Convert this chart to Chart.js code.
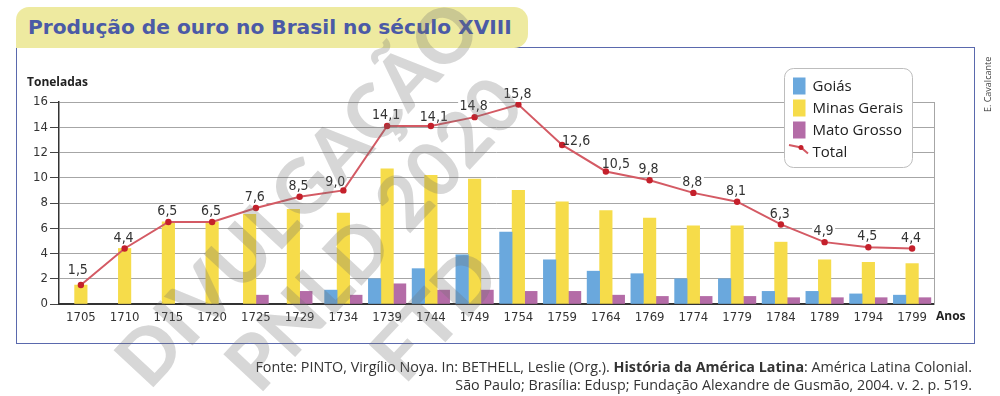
<!DOCTYPE html>
<html>
<head>
<meta charset="utf-8">
<script src="https://cdn.jsdelivr.net/npm/chart.js@4.4.1/dist/chart.umd.min.js"></script>
<style>
  html, body { margin:0; padding:0; background:#fff; }
  body { width:1000px; height:396px; position:relative; overflow:hidden; font-family:'Open Sans', sans-serif; }
  #frame { position:absolute; left:16px; top:47px; width:959px; height:297px; border:1.5px solid #5a69ad; box-sizing:border-box; }
  #titlebox { position:absolute; left:16px; top:7px; width:512px; height:41px; background:#eeeaa0; border-radius:13px 14px 14px 0; }
  #title { position:absolute; left:28px; top:27px; transform:translateY(-50%); font-family:'DejaVu Sans', sans-serif; font-weight:700; font-size:18px; color:#4b5aa6; white-space:nowrap; line-height:1; }
  #chart { position:absolute; left:0; top:0; }
  .axt { position:absolute; font-family:'Open Sans', sans-serif; font-weight:700; font-size:12px; color:#222; white-space:nowrap; line-height:16px; }
  #credit { position:absolute; left:983px; top:112px; transform-origin:0 0; transform:rotate(-90deg); font-family:'Open Sans', sans-serif; font-size:9px; color:#444; white-space:nowrap; line-height:10px; }
  .src { position:absolute; right:28px; font-family:'Open Sans', sans-serif; font-size:13px; color:#333; white-space:nowrap; line-height:18px; }
  .wm { position:absolute; font-family:Lato, sans-serif; font-weight:900; font-size:75px; color:rgba(110,110,110,0.28); white-space:nowrap; line-height:80px; transform:translate(-50%,-50%) rotate(-47deg); pointer-events:none; }
</style>
</head>
<body>
<div id="frame"></div>
<div id="titlebox"></div>
<div id="title">Produção de ouro no Brasil no século XVIII</div>
<canvas id="chart" width="1000" height="396"></canvas>
<div class="axt" style="left:27px; top:74px;">Toneladas</div>
<div class="axt" style="left:936px; top:308px;">Anos</div>
<div id="credit">E. Cavalcante</div>
<div class="src" id="src1" style="top:358px;">Fonte: PINTO, Virgílio Noya. In: BETHELL, Leslie (Org.). <b>História da América Latina</b>: América Latina Colonial.</div>
<div class="src" id="src2" style="top:376px;">São Paulo; Brasília: Edusp; Fundação Alexandre de Gusmão, 2004. v. 2. p. 519.</div>
<div class="wm" style="left:296px; top:192px;">DIVULGAÇÃO</div>
<div class="wm" style="left:372px; top:232px;">PNLD 2020</div>
<div class="wm" style="left:433px; top:313px;">FTD</div>
<script>
// ---- data ----
const years = ['1705','1710','1715','1720','1725','1729','1734','1739','1744','1749','1754','1759','1764','1769','1774','1779','1784','1789','1794','1799'];
const goias = [null,null,null,null,null,null,1.1,2.0,2.8,3.9,5.7,3.5,2.6,2.4,2.0,2.0,1.0,1.0,0.8,0.7];
const minasGerais = [1.5,4.4,6.5,6.5,7.1,7.5,7.2,10.7,10.2,9.9,9.0,8.1,7.4,6.8,6.2,6.2,4.9,3.5,3.3,3.2];
const matoGrosso = [null,null,null,null,0.7,1.0,0.7,1.6,1.1,1.1,1.0,1.0,0.7,0.6,0.6,0.6,0.5,0.5,0.5,0.5];
const total = [1.5,4.4,6.5,6.5,7.6,8.5,9.0,14.1,14.1,14.8,15.8,12.6,10.5,9.8,8.8,8.1,6.3,4.9,4.5,4.4];
const yTicks = [0,2,4,6,8,10,12,14,16];

// fit text blocks to the reference widths
function fitWidth(el, target){
  const fs = parseFloat(getComputedStyle(el).fontSize);
  const w = el.getBoundingClientRect().width;
  const nfs = fs * target / w;
  el.style.fontSize = nfs + 'px';
  return nfs;
}
const tEl = document.getElementById('title');
fitWidth(tEl, 484);
const s1 = document.getElementById('src1');
const nfs = fitWidth(s1, 717);
document.getElementById('src2').style.fontSize = nfs + 'px';

const NARROW = "'Liberation Sans Narrow', 'DejaVu Sans Condensed', 'Open Sans', sans-serif";
const COLORS = { goias:'#6aa8dd', minas:'#f6dc4a', mato:'#b46ca7', line:'#d45a64', point:'#c4202b' };

// label offsets relative to the point (visual placement tweaks)
const labelOffset = (i) => ({0:[-3,-15], 6:[-8,-8], 8:[3,-9], 11:[14,-4], 12:[10,-7]}[i] || [-1,-10.5]);
const fmt = v => v.toFixed(1).replace('.', ',');

const valueLabels = {
  id:'valueLabels',
  beforeDatasetsDraw(chart){
    const meta = chart.getDatasetMeta(3);
    const ctx = chart.ctx;
    ctx.save();
    ctx.font = '14px ' + NARROW;
    ctx.fillStyle = '#fff';
    meta.data.forEach((pt, i) => {
      const [dx, dy] = labelOffset(i);
      const t = fmt(total[i]);
      const w = ctx.measureText(t).width + 3;
      ctx.fillRect(pt.x + dx - w/2, pt.y + dy - 7, w, 14);
    });
    ctx.restore();
  },
  afterDatasetsDraw(chart){
    const meta = chart.getDatasetMeta(3);
    const ctx = chart.ctx;
    ctx.save();
    ctx.font = '14px ' + NARROW;
    ctx.fillStyle = '#333';
    ctx.textAlign = 'center';
    ctx.textBaseline = 'middle';
    meta.data.forEach((pt, i) => {
      const [dx, dy] = labelOffset(i);
      ctx.fillText(fmt(total[i]), pt.x + dx, pt.y + dy);
    });
    ctx.restore();
  }
};

const boxLegend = {
  id:'boxLegend',
  afterDraw(chart){
    const ctx = chart.ctx;
    const ds = chart.data.datasets;
    const x0 = 784, y0 = 68, w = 128, h = 99, r = 9;
    ctx.save();
    ctx.beginPath();
    ctx.roundRect(x0 + 0.5, y0 + 0.5, w, h, r);
    ctx.fillStyle = '#fff';
    ctx.fill();
    ctx.strokeStyle = '#bdbdbd';
    ctx.lineWidth = 1;
    ctx.stroke();
    ctx.font = "15px 'Open Sans', sans-serif";
    ctx.textBaseline = 'middle';
    ctx.textAlign = 'left';
    ds.forEach((d, i) => {
      const cy = 86 + i * 22;
      if (d.type === 'line') {
        ctx.strokeStyle = d.borderColor;
        ctx.lineWidth = 2;
        ctx.beginPath();
        ctx.moveTo(789, cy - 7);
        ctx.lineTo(801, cy - 4.5);
        ctx.lineTo(808, cy + 1.5);
        ctx.stroke();
        ctx.fillStyle = d.pointBackgroundColor;
        ctx.beginPath();
        ctx.arc(801, cy - 4.5, 2.5, 0, Math.PI * 2);
        ctx.fill();
      } else {
        ctx.fillStyle = d.backgroundColor;
        ctx.fillRect(793, cy - 8.5, 12.5, 17);
      }
      ctx.fillStyle = '#222';
      ctx.fillText(d.label, 812.5, cy + 0.5);
    });
    ctx.restore();
  }
};

const tickFont = { family: NARROW, size: 13 };

new Chart(document.getElementById('chart'), {
  data: {
    labels: years,
    datasets: [
      { type:'bar', label:'Goiás', data: goias, backgroundColor: COLORS.goias, order:1 },
      { type:'bar', label:'Minas Gerais', data: minasGerais, backgroundColor: COLORS.minas, order:1 },
      { type:'bar', label:'Mato Grosso', data: matoGrosso, backgroundColor: COLORS.mato, order:1 },
      { type:'line', label:'Total', data: total, borderColor: COLORS.line, borderWidth:2, tension:0,
        pointRadius:3.2, pointBackgroundColor: COLORS.point, pointBorderColor: COLORS.point, pointBorderWidth:0, order:0 }
    ]
  },
  options: {
    responsive:false,
    animation:false,
    layout: { padding: { left:15, right:66, top:102, bottom:68 } },
    datasets: { bar: { skipNull:true, barThickness:12.5 } },
    plugins: { legend:{ display:false }, tooltip:{ enabled:false } },
    scales: {
      x: {
        grid: { drawOnChartArea:false, drawTicks:false },
        border: { color:'#333', width:2 },
        ticks: { font: tickFont, color:'#333', padding:6, autoSkip:false, maxRotation:0 },
        afterFit(s){ s.height = 24; }
      },
      y: {
        type:'linear', min:0, max:16,
        afterBuildTicks(s){ s.ticks = yTicks.map(v => ({ value:v })); },
        ticks: { font: tickFont, color:'#333', padding:2 },
        grid: { color:'#a6a6a6', tickColor:'#444', tickLength:9, lineWidth:1 },
        border: { color:'#333', width:1.5 },
        afterFit(s){ s.width = 44; }
      },
      y2: {
        type:'linear', position:'right', min:0, max:16,
        ticks: { display:false },
        grid: { drawOnChartArea:false, drawTicks:false },
        border: { color:'#a6a6a6', width:1 },
        afterFit(s){ s.width = 0; }
      }
    }
  },
  plugins: [valueLabels, boxLegend]
});
</script>
</body>
</html>
